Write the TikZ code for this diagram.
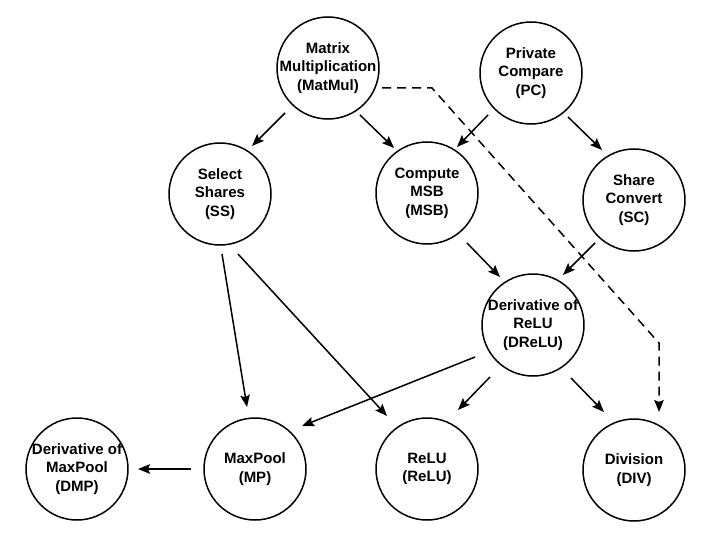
\documentclass[tikz,border=0pt]{standalone}
\usepackage{fontspec}
\setmainfont{Liberation Sans}
\usetikzlibrary{arrows.meta,calc}
\begin{document}
\begin{tikzpicture}[x=1pt,y=-1pt,
  bub/.style={draw, circle, line width=1.5pt, minimum size=102pt, inner sep=-12pt,
    align=center, font=\fontsize{15}{18.5}\selectfont\bfseries},
  arr/.style={line width=1.5pt, -{Stealth[length=12pt,width=9.5pt,inset=2pt]}},
  darr/.style={arr, dash pattern=on 9pt off 6pt}]
\useasboundingbox (0,0) rectangle (721,535);
\node[bub] (MatMul) at (328,68) {Matrix\\Multiplication\\(MatMul)};
\node[bub] (PC) at (531,73) {Private\\Compare\\(PC)};
\node[bub] (SS) at (220,194) {Select\\Shares\\(SS)};
\node[bub] (MSB) at (427,193) {Compute\\MSB\\(MSB)};
\node[bub] (SC) at (634,200) {Share\\Convert\\(SC)};
\node[bub] (DReLU) at (533,325) {Derivative of\\ReLU\\(DReLU)};
\node[bub] (DMP) at (77,469) {Derivative of\\MaxPool\\(DMP)};
\node[bub] (MP) at (255,469) {MaxPool\\(MP)};
\node[bub] (ReLU) at (427,469) {ReLU\\(ReLU)};
\node[bub] (DIV) at (634,470) {Division\\(DIV)};
\coordinate (b1) at (432,88);
\coordinate (b2) at (659,343);
\draw[arr] ($(MatMul)+(-43,45)$) -- ($(SS)+(32,-48)$);
\draw[arr] ($(MatMul)+(32,47)$) -- ($(MSB)+(-33,-45)$);
\draw[arr] ($(PC)+(-43,42)$) -- ($(MSB)+(30,-46)$);
\draw[arr] ($(PC)+(37,44)$) -- ($(SC)+(-32,-50)$);
\draw[arr] ($(MSB)+(40,50)$) -- ($(DReLU)+(-33,-48)$);
\draw[arr] ($(SC)+(-39,43)$) -- ($(DReLU)+(30,-50)$);
\draw[arr] ($(SS)+(2,60)$) -- ($(MP)+(-8,-62)$);
\draw[arr] ($(SS)+(18,60)$) -- ($(ReLU)+(-40,-53)$);
\draw[arr] ($(DReLU)+(-58,32)$) -- ($(MP)+(47,-43)$);
\draw[arr] ($(DReLU)+(-43,52)$) -- ($(ReLU)+(31,-59)$);
\draw[arr] ($(DReLU)+(38,53)$) -- ($(DIV)+(-30,-58)$);
\draw[arr] ($(MP)+(-64,0)$) -- ($(DMP)+(61,0)$);
\draw[darr] ($(MatMul)+(54,20)$) -- (b1) -- (b2) -- ($(DIV)+(25,-58)$);
\end{tikzpicture}
\end{document}
